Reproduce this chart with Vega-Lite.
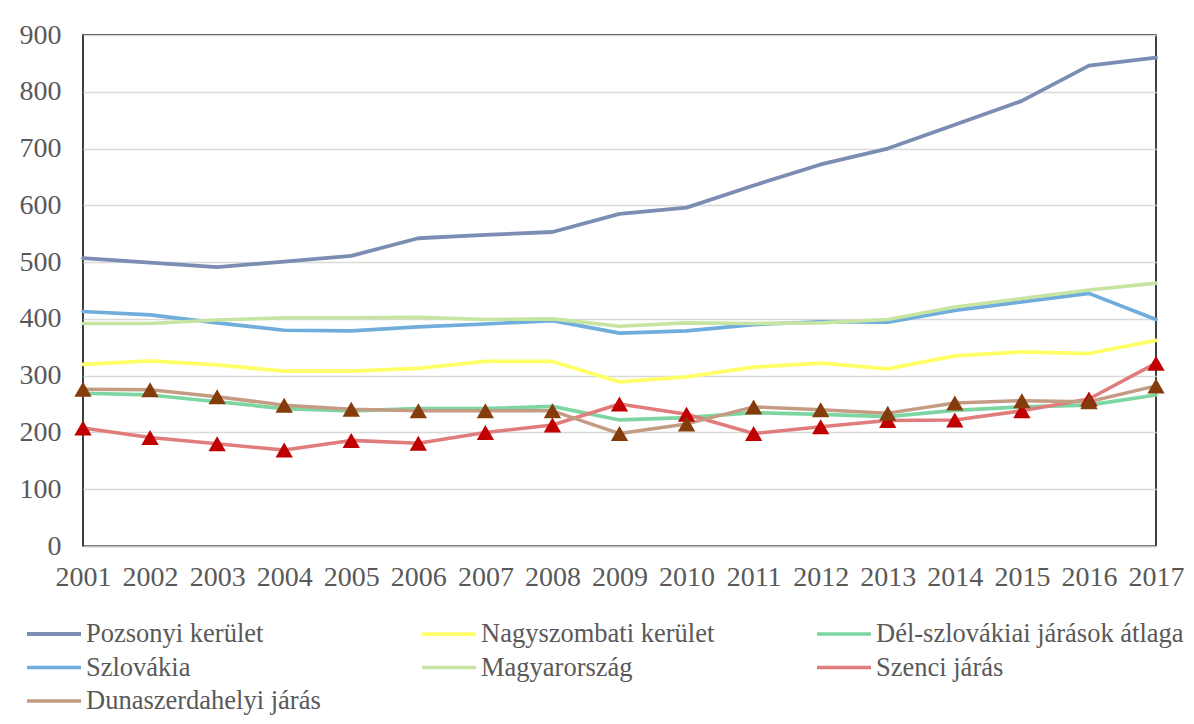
{
  "$schema": "https://vega.github.io/schema/vega-lite/v6.json",
  "width": 1073,
  "height": 511,
  "autosize": {"type": "none"},
  "padding": {"left": 83, "top": 35, "right": 38, "bottom": 178},
  "background": "white",
  "config": {
    "font": "Liberation Serif",
    "view": {"stroke": "#000000", "strokeWidth": 1.5},
    "axis": {"labelFont": "Liberation Serif", "labelFontSize": 28, "labelColor": "#595959", "ticks": false, "title": null}
  },
  "data": {"values": [
    {"year": "2001", "series": "Pozsonyi kerület", "value": 507},
    {"year": "2002", "series": "Pozsonyi kerület", "value": 499},
    {"year": "2003", "series": "Pozsonyi kerület", "value": 491},
    {"year": "2004", "series": "Pozsonyi kerület", "value": 501},
    {"year": "2005", "series": "Pozsonyi kerület", "value": 511},
    {"year": "2006", "series": "Pozsonyi kerület", "value": 542},
    {"year": "2007", "series": "Pozsonyi kerület", "value": 548},
    {"year": "2008", "series": "Pozsonyi kerület", "value": 553},
    {"year": "2009", "series": "Pozsonyi kerület", "value": 585},
    {"year": "2010", "series": "Pozsonyi kerület", "value": 596},
    {"year": "2011", "series": "Pozsonyi kerület", "value": 635},
    {"year": "2012", "series": "Pozsonyi kerület", "value": 672},
    {"year": "2013", "series": "Pozsonyi kerület", "value": 700},
    {"year": "2014", "series": "Pozsonyi kerület", "value": 742},
    {"year": "2015", "series": "Pozsonyi kerület", "value": 784},
    {"year": "2016", "series": "Pozsonyi kerület", "value": 846},
    {"year": "2017", "series": "Pozsonyi kerület", "value": 860},
    {"year": "2001", "series": "Nagyszombati kerület", "value": 320},
    {"year": "2002", "series": "Nagyszombati kerület", "value": 326},
    {"year": "2003", "series": "Nagyszombati kerület", "value": 319},
    {"year": "2004", "series": "Nagyszombati kerület", "value": 308},
    {"year": "2005", "series": "Nagyszombati kerület", "value": 308},
    {"year": "2006", "series": "Nagyszombati kerület", "value": 313},
    {"year": "2007", "series": "Nagyszombati kerület", "value": 325},
    {"year": "2008", "series": "Nagyszombati kerület", "value": 325},
    {"year": "2009", "series": "Nagyszombati kerület", "value": 289},
    {"year": "2010", "series": "Nagyszombati kerület", "value": 298},
    {"year": "2011", "series": "Nagyszombati kerület", "value": 315},
    {"year": "2012", "series": "Nagyszombati kerület", "value": 322},
    {"year": "2013", "series": "Nagyszombati kerület", "value": 312},
    {"year": "2014", "series": "Nagyszombati kerület", "value": 335},
    {"year": "2015", "series": "Nagyszombati kerület", "value": 342},
    {"year": "2016", "series": "Nagyszombati kerület", "value": 339},
    {"year": "2017", "series": "Nagyszombati kerület", "value": 362},
    {"year": "2001", "series": "Dél-szlovákiai járások átlaga", "value": 269},
    {"year": "2002", "series": "Dél-szlovákiai járások átlaga", "value": 266},
    {"year": "2003", "series": "Dél-szlovákiai járások átlaga", "value": 254},
    {"year": "2004", "series": "Dél-szlovákiai járások átlaga", "value": 242},
    {"year": "2005", "series": "Dél-szlovákiai járások átlaga", "value": 238},
    {"year": "2006", "series": "Dél-szlovákiai járások átlaga", "value": 242},
    {"year": "2007", "series": "Dél-szlovákiai járások átlaga", "value": 242},
    {"year": "2008", "series": "Dél-szlovákiai járások átlaga", "value": 246},
    {"year": "2009", "series": "Dél-szlovákiai járások átlaga", "value": 222},
    {"year": "2010", "series": "Dél-szlovákiai járások átlaga", "value": 226},
    {"year": "2011", "series": "Dél-szlovákiai járások átlaga", "value": 235},
    {"year": "2012", "series": "Dél-szlovákiai járások átlaga", "value": 232},
    {"year": "2013", "series": "Dél-szlovákiai járások átlaga", "value": 228},
    {"year": "2014", "series": "Dél-szlovákiai járások átlaga", "value": 239},
    {"year": "2015", "series": "Dél-szlovákiai járások átlaga", "value": 245},
    {"year": "2016", "series": "Dél-szlovákiai járások átlaga", "value": 248},
    {"year": "2017", "series": "Dél-szlovákiai járások átlaga", "value": 266},
    {"year": "2001", "series": "Szlovákia", "value": 413},
    {"year": "2002", "series": "Szlovákia", "value": 407},
    {"year": "2003", "series": "Szlovákia", "value": 393},
    {"year": "2004", "series": "Szlovákia", "value": 380},
    {"year": "2005", "series": "Szlovákia", "value": 379},
    {"year": "2006", "series": "Szlovákia", "value": 386},
    {"year": "2007", "series": "Szlovákia", "value": 391},
    {"year": "2008", "series": "Szlovákia", "value": 397},
    {"year": "2009", "series": "Szlovákia", "value": 375},
    {"year": "2010", "series": "Szlovákia", "value": 379},
    {"year": "2011", "series": "Szlovákia", "value": 390},
    {"year": "2012", "series": "Szlovákia", "value": 395},
    {"year": "2013", "series": "Szlovákia", "value": 394},
    {"year": "2014", "series": "Szlovákia", "value": 415},
    {"year": "2015", "series": "Szlovákia", "value": 430},
    {"year": "2016", "series": "Szlovákia", "value": 445},
    {"year": "2017", "series": "Szlovákia", "value": 399},
    {"year": "2001", "series": "Magyarország", "value": 392},
    {"year": "2002", "series": "Magyarország", "value": 392},
    {"year": "2003", "series": "Magyarország", "value": 398},
    {"year": "2004", "series": "Magyarország", "value": 402},
    {"year": "2005", "series": "Magyarország", "value": 402},
    {"year": "2006", "series": "Magyarország", "value": 403},
    {"year": "2007", "series": "Magyarország", "value": 399},
    {"year": "2008", "series": "Magyarország", "value": 400},
    {"year": "2009", "series": "Magyarország", "value": 387},
    {"year": "2010", "series": "Magyarország", "value": 393},
    {"year": "2011", "series": "Magyarország", "value": 392},
    {"year": "2012", "series": "Magyarország", "value": 393},
    {"year": "2013", "series": "Magyarország", "value": 399},
    {"year": "2014", "series": "Magyarország", "value": 421},
    {"year": "2015", "series": "Magyarország", "value": 436},
    {"year": "2016", "series": "Magyarország", "value": 451},
    {"year": "2017", "series": "Magyarország", "value": 463},
    {"year": "2001", "series": "Szenci járás", "value": 208},
    {"year": "2002", "series": "Szenci járás", "value": 191},
    {"year": "2003", "series": "Szenci járás", "value": 180},
    {"year": "2004", "series": "Szenci járás", "value": 169},
    {"year": "2005", "series": "Szenci járás", "value": 186},
    {"year": "2006", "series": "Szenci járás", "value": 181},
    {"year": "2007", "series": "Szenci járás", "value": 200},
    {"year": "2008", "series": "Szenci járás", "value": 213},
    {"year": "2009", "series": "Szenci járás", "value": 250},
    {"year": "2010", "series": "Szenci járás", "value": 232},
    {"year": "2011", "series": "Szenci járás", "value": 198},
    {"year": "2012", "series": "Szenci járás", "value": 210},
    {"year": "2013", "series": "Szenci járás", "value": 221},
    {"year": "2014", "series": "Szenci járás", "value": 222},
    {"year": "2015", "series": "Szenci járás", "value": 238},
    {"year": "2016", "series": "Szenci járás", "value": 259},
    {"year": "2017", "series": "Szenci járás", "value": 322},
    {"year": "2001", "series": "Dunaszerdahelyi járás", "value": 276},
    {"year": "2002", "series": "Dunaszerdahelyi járás", "value": 275},
    {"year": "2003", "series": "Dunaszerdahelyi járás", "value": 263},
    {"year": "2004", "series": "Dunaszerdahelyi járás", "value": 248},
    {"year": "2005", "series": "Dunaszerdahelyi járás", "value": 241},
    {"year": "2006", "series": "Dunaszerdahelyi járás", "value": 238},
    {"year": "2007", "series": "Dunaszerdahelyi járás", "value": 238},
    {"year": "2008", "series": "Dunaszerdahelyi járás", "value": 238},
    {"year": "2009", "series": "Dunaszerdahelyi járás", "value": 198},
    {"year": "2010", "series": "Dunaszerdahelyi járás", "value": 215},
    {"year": "2011", "series": "Dunaszerdahelyi járás", "value": 245},
    {"year": "2012", "series": "Dunaszerdahelyi járás", "value": 240},
    {"year": "2013", "series": "Dunaszerdahelyi járás", "value": 234},
    {"year": "2014", "series": "Dunaszerdahelyi járás", "value": 252},
    {"year": "2015", "series": "Dunaszerdahelyi járás", "value": 256},
    {"year": "2016", "series": "Dunaszerdahelyi járás", "value": 254},
    {"year": "2017", "series": "Dunaszerdahelyi járás", "value": 282}
  ]},
  "encoding": {
    "x": {"field": "year", "type": "ordinal", "scale": {"type": "point", "padding": 0},
      "axis": {"labelAngle": 0, "labelPadding": 17, "domainColor": "#BFBFBF", "domainWidth": 1.5, "grid": false}},
    "y": {"field": "value", "type": "quantitative", "scale": {"domain": [0, 900], "nice": false},
      "axis": {"values": [0, 100, 200, 300, 400, 500, 600, 700, 800, 900], "labelPadding": 22, "domain": false, "grid": true, "gridColor": "#D9D9D9", "gridWidth": 1.5}}
  },
  "layer": [
    {
      "mark": {"type": "line", "strokeJoin": "round", "strokeCap": "round"},
      "encoding": {
        "color": {"field": "series", "type": "nominal",
          "scale": {
            "domain": ["Pozsonyi kerület", "Nagyszombati kerület", "Dél-szlovákiai járások átlaga", "Szlovákia", "Magyarország", "Szenci járás", "Dunaszerdahelyi járás"],
            "range": ["#7C8DB3", "#FFFF66", "#7DD6A2", "#6EADDC", "#C6E4A2", "#E07C7C", "#C49C84"]
          },
          "legend": {
            "title": null, "orient": "none", "legendX": -58, "legendY": 584,
            "direction": "horizontal", "columns": 3, "gridAlign": "all", "columnPadding": 26, "rowPadding": 3.5, "clipHeight": 30,
            "symbolType": "stroke", "symbolSize": 2916, "symbolStrokeWidth": 4, "symbolOffset": 0,
            "labelFont": "Liberation Serif", "labelFontSize": 26.5, "labelColor": "#595959", "labelOffset": 3, "labelLimit": 500
          }
        },
        "strokeWidth": {"field": "series", "type": "nominal",
          "scale": {
            "domain": ["Pozsonyi kerület", "Nagyszombati kerület", "Dél-szlovákiai járások átlaga", "Szlovákia", "Magyarország", "Szenci járás", "Dunaszerdahelyi járás"],
            "range": [3.8, 3.5, 3.5, 3.5, 3.5, 6, 6]
          },
          "legend": null
        }
      }
    },
    {
      "transform": [{"filter": "datum.series === 'Szenci járás'"}],
      "mark": {"type": "point", "shape": "triangle-up", "filled": true, "opacity": 1, "color": "#C00000", "size": 300}
    },
    {
      "transform": [{"filter": "datum.series === 'Dunaszerdahelyi járás'"}],
      "mark": {"type": "point", "shape": "triangle-up", "filled": true, "opacity": 1, "color": "#843C0C", "size": 300}
    }
  ]
}
